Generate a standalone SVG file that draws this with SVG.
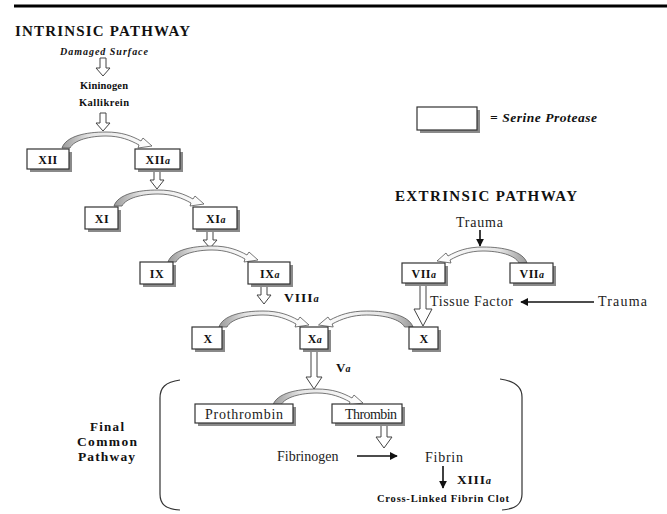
<svg xmlns="http://www.w3.org/2000/svg" width="667" height="514" viewBox="0 0 667 514">
<style>
.t{font-family:"Liberation Serif","Times New Roman",serif;fill:#111}
.b{font-weight:bold}
.box{fill:#fff;stroke:#333;stroke-width:1.2}
.sh{fill:#8a8a8a}
.lbl{font-family:"Liberation Serif",serif;font-weight:bold;font-size:12px;letter-spacing:0.5px;text-anchor:middle;fill:#111}
.hol{fill:#fff;stroke:#444;stroke-width:1}
.sol{stroke:#111;stroke-width:1.6;fill:none}
.reg{font-family:"Liberation Serif",serif;font-size:14px;fill:#222}
</style>
<defs>
<linearGradient id="cg" x1="0" y1="0" x2="1" y2="0">
<stop offset="0" stop-color="#9a9a9a"/><stop offset="0.3" stop-color="#e4e4e4"/><stop offset="1" stop-color="#fff"/>
</linearGradient>
<path id="curve" d="M0,16 C4,4 24,0 44,0 C60,0 70,4 79,9 L81,6 L90,14 L76,16 L77,13 C68,8 58,4 44,4 C28,4 12,8 8,16 Z" fill="url(#cg)" stroke="#555" stroke-width="0.8"/>
<marker id="ah" viewBox="0 0 10 10" refX="9" refY="5" markerWidth="5" markerHeight="5" orient="auto"><path d="M0,0 L10,5 L0,10 Z" fill="#111"/></marker>
</defs>

<line x1="14" y1="6" x2="667" y2="6" stroke="#000" stroke-width="3"/>

<text class="t b" x="15" y="36" font-size="15" textLength="175" lengthAdjust="spacing">INTRINSIC PATHWAY</text>
<text class="t b" x="60" y="55" font-size="10" font-style="italic" textLength="88" lengthAdjust="spacing">Damaged Surface</text>
<text class="t b" x="80" y="89" font-size="10.5" textLength="48" lengthAdjust="spacing">Kininogen</text>
<text class="t b" x="79" y="106" font-size="10.5" textLength="50" lengthAdjust="spacing">Kallikrein</text>

<text class="t b" x="395" y="201" font-size="15" textLength="182" lengthAdjust="spacing">EXTRINSIC PATHWAY</text>
<text class="reg" x="456" y="227" textLength="47" lengthAdjust="spacing">Trauma</text>
<text class="reg" x="430" y="306" textLength="83" lengthAdjust="spacing">Tissue Factor</text>
<text class="reg" x="598" y="306" textLength="49" lengthAdjust="spacing">Trauma</text>

<g id="legend">
<rect class="sh" x="420" y="110" width="60" height="23"/>
<rect class="box" x="417" y="107" width="60" height="23"/>
<text class="t b" x="490" y="122" font-size="13.5" font-style="italic" textLength="107" lengthAdjust="spacing">= Serine Protease</text>
</g>

<g id="connectors">
<polygon class="hol" points="100,58 106,58 106,68 110,68 103,76 96,68 100,68"/>
<polygon class="hol" points="100,113 106,113 106,123 110,123 103,131 96,123 100,123"/>
<polygon class="hol" points="154,170 160,170 160,180 164,180 157,189 150,180 154,180"/>
<polygon class="hol" points="207,230 213,230 213,240 217,240 210,248 203,240 207,240"/>
<polygon class="hol" points="261,286 267,286 267,295 271,295 264,304 257,295 261,295"/>
<polygon class="hol" points="311,350 317,350 317,377 322,377 314,389 306,377 311,377"/>
<polygon class="hol" points="381,424 387,424 387,437 392,437 384,448 376,437 381,437"/>
<polygon class="hol" points="420,284 426,284 426,309 432,309 423,326 414,309 420,309"/>

<use href="#curve" transform="translate(62,132)"/>
<use href="#curve" transform="translate(114,190)"/>
<use href="#curve" transform="translate(168,246)"/>
<use href="#curve" transform="translate(219,311)"/>
<use href="#curve" transform="translate(273,389)"/>
<use href="#curve" transform="translate(527,247) scale(-1,1)"/>
<use href="#curve" transform="translate(413,311) scale(-1.05,1)"/>

<line class="sol" x1="480" y1="230" x2="480" y2="246" marker-end="url(#ah)"/>
<line class="sol" x1="594" y1="302" x2="521" y2="302" marker-end="url(#ah)"/>
<line class="sol" x1="357" y1="456" x2="397" y2="456" marker-end="url(#ah)"/>
<line class="sol" x1="443" y1="466" x2="443" y2="488" marker-end="url(#ah)"/>
</g>

<text class="t b" x="284" y="302" font-size="13.5" letter-spacing="1">VIII<tspan font-style="italic" font-size="10.5">a</tspan></text>
<text class="t b" x="336" y="372" font-size="13">V<tspan font-style="italic" font-size="10">a</tspan></text>

<g id="n-XII"><rect class="sh" x="30" y="152" width="42" height="20"/><rect class="box" x="27" y="149" width="42" height="20"/><text class="lbl" x="48" y="163.5">XII</text></g>
<g id="n-XIIa"><rect class="sh" x="138" y="152" width="45" height="20"/><rect class="box" x="135" y="149" width="45" height="20"/><text class="lbl" x="158" y="163.5">XII<tspan font-style="italic" font-size="10">a</tspan></text></g>
<g id="n-XI"><rect class="sh" x="88" y="210" width="33" height="22"/><rect class="box" x="85" y="207" width="33" height="22"/><text class="lbl" x="102" y="222.5">XI</text></g>
<g id="n-XIa"><rect class="sh" x="196" y="210" width="44" height="22"/><rect class="box" x="193" y="207" width="44" height="22"/><text class="lbl" x="216" y="222.5">XI<tspan font-style="italic" font-size="10">a</tspan></text></g>
<g id="n-IX"><rect class="sh" x="143" y="265" width="33" height="22"/><rect class="box" x="140" y="262" width="33" height="22"/><text class="lbl" x="157" y="277.5">IX</text></g>
<g id="n-IXa"><rect class="sh" x="251" y="265" width="42" height="22"/><rect class="box" x="248" y="262" width="42" height="22"/><text class="lbl" x="270" y="277.5">IX<tspan font-style="italic" font-size="10">a</tspan></text></g>
<g id="n-X1"><rect class="sh" x="195" y="330" width="30" height="22"/><rect class="box" x="192" y="327" width="30" height="22"/><text class="lbl" x="208" y="342.5">X</text></g>
<g id="n-Xa"><rect class="sh" x="303" y="330" width="28" height="22"/><rect class="box" x="300" y="327" width="28" height="22"/><text class="lbl" x="315" y="342.5">X<tspan font-style="italic" font-size="10">a</tspan></text></g>
<g id="n-X2"><rect class="sh" x="412" y="330" width="29" height="22"/><rect class="box" x="409" y="327" width="29" height="22"/><text class="lbl" x="424" y="342.5">X</text></g>
<g id="n-VIIa1"><rect class="sh" x="405" y="266" width="43" height="20"/><rect class="box" x="402" y="263" width="43" height="20"/><text class="lbl" x="424" y="277.5">VII<tspan font-style="italic" font-size="10">a</tspan></text></g>
<g id="n-VIIa2"><rect class="sh" x="513" y="266" width="43" height="20"/><rect class="box" x="510" y="263" width="43" height="20"/><text class="lbl" x="532" y="277.5">VII<tspan font-style="italic" font-size="10">a</tspan></text></g>

<g id="final">
<path d="M180,380 C165,382 160,388 160,398 L160,494 C160,504 165,509 180,510" fill="none" stroke="#333" stroke-width="1.2"/>
<path d="M500,379 C515,381 522,387 522,397 L522,494 C522,504 516,509 502,510" fill="none" stroke="#333" stroke-width="1.2"/>
<text class="t b" x="90" y="431" font-size="13" textLength="34" lengthAdjust="spacing">Final</text>
<text class="t b" x="77" y="446" font-size="13.5" textLength="60" lengthAdjust="spacing">Common</text>
<text class="t b" x="78" y="461" font-size="13.5" textLength="57" lengthAdjust="spacing">Pathway</text>
</g>
<g id="n-Prothrombin"><rect class="sh" x="198" y="407" width="98" height="19"/><rect class="box" x="195" y="404" width="98" height="19"/><text class="reg" x="205" y="418.5" textLength="78" lengthAdjust="spacing">Prothrombin</text></g>
<g id="n-Thrombin"><rect class="sh" x="335" y="407" width="70" height="19"/><rect class="box" x="332" y="404" width="70" height="19"/><text class="reg" x="345" y="418.5" textLength="52" lengthAdjust="spacing">Thrombin</text></g>
<text class="reg" x="277" y="461">Fibrinogen</text>
<text class="reg" x="425" y="462" textLength="38" lengthAdjust="spacing">Fibrin</text>
<text class="t b" x="457" y="484" font-size="13.5" letter-spacing="0.8">XIII<tspan font-style="italic" font-size="10.5">a</tspan></text>
<text class="t b" x="377" y="502" font-size="10.5" textLength="132" lengthAdjust="spacing">Cross-Linked Fibrin Clot</text>
</svg>
